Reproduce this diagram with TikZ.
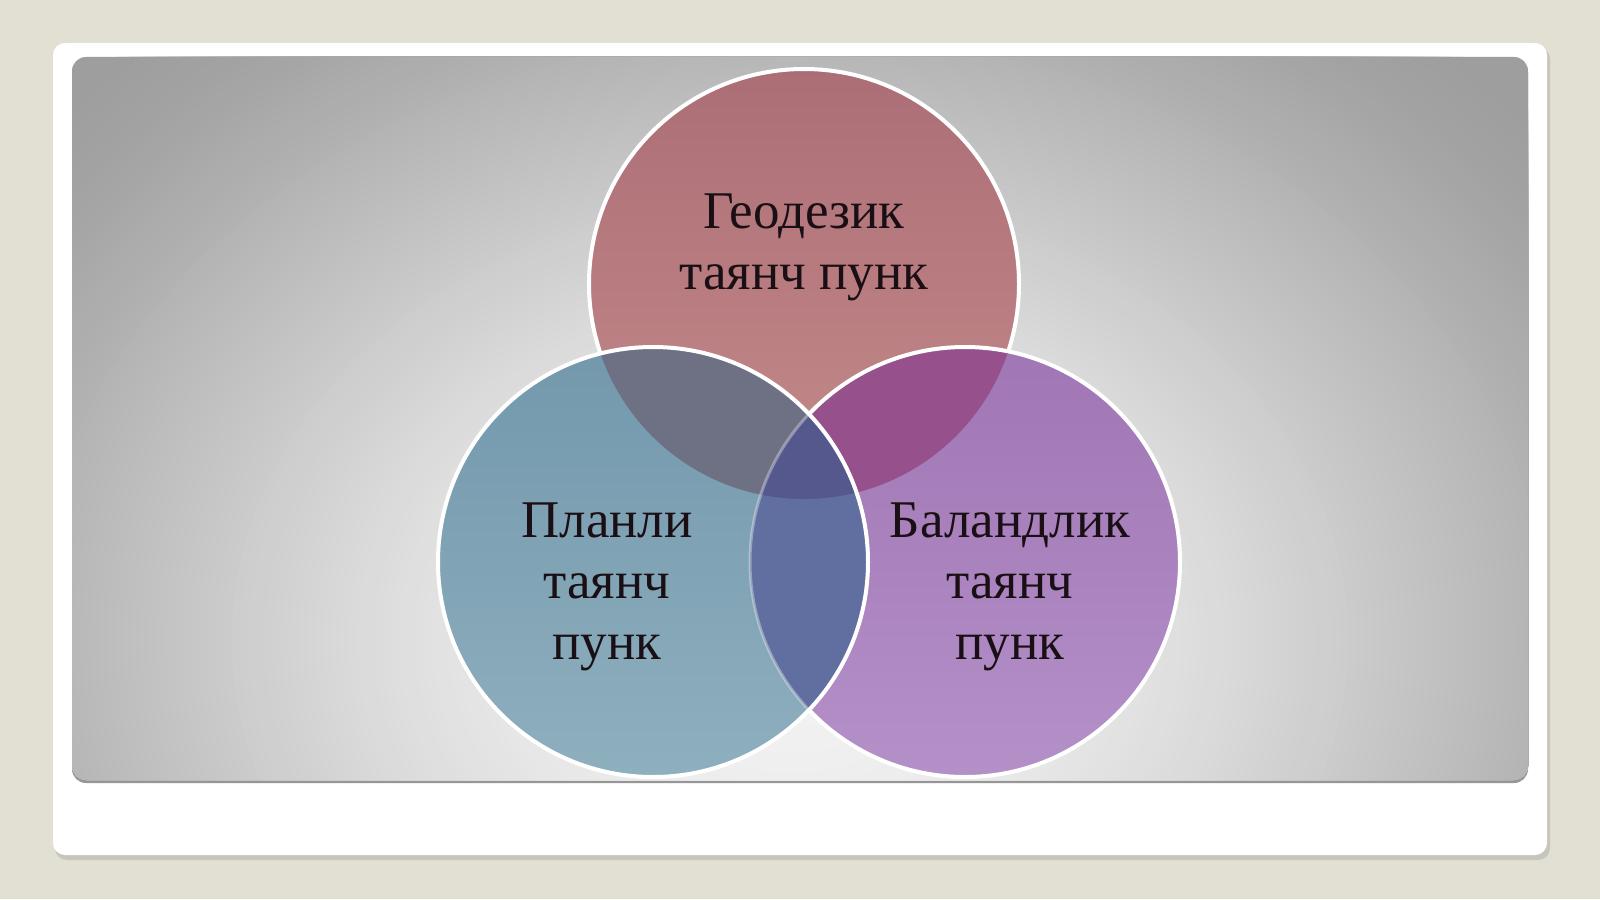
\documentclass[tikz,border=0pt]{standalone}
\usepackage{fontspec}
\setmainfont{Liberation Serif}

\definecolor{slidebg}{RGB}{226,224,210}
\definecolor{cardshadow}{RGB}{200,198,188}
\definecolor{panelshadow}{RGB}{150,150,150}
\definecolor{paneledge}{RGB}{158,158,158}
\definecolor{geotop}{RGB}{172,110,118}
\definecolor{geobot}{RGB}{196,138,138}
\definecolor{plantop}{RGB}{115,152,172}
\definecolor{planbot}{RGB}{142,175,190}
\definecolor{baltop}{RGB}{160,118,180}
\definecolor{balbot}{RGB}{180,144,200}
\definecolor{geoplan}{RGB}{110,112,132}
\definecolor{geobal}{RGB}{150,80,140}
\definecolor{planbal}{RGB}{96,110,160}
\definecolor{allthree}{RGB}{85,88,140}
\definecolor{labeltext}{RGB}{25,15,20}

\tikzset{
  ring/.style={draw=white, line width=4pt},
  label/.style={align=center, text=labeltext, font=\fontsize{53}{61}\selectfont}
}

\begin{document}
\begin{tikzpicture}[x=1pt, y=-1pt]
\useasboundingbox (0,0) rectangle (1600,899);

%Slide
\fill[slidebg] (0,0) rectangle (1600,899);
\fill[cardshadow, rounded corners=12pt] (55,47) rectangle (1550,860);
\fill[white, rounded corners=12pt] (53,43) rectangle (1547,855);
\fill[panelshadow, rounded corners=14pt] (72,59) rectangle (1528,783);
\fill[paneledge, rounded corners=14pt] (72,57) rectangle (1528,780);
\begin{scope}
\clip[rounded corners=14pt] (72,57) rectangle (1528,780);
\foreach \k in {1,...,119}{
  \pgfmathsetmacro\f{1-\k/120}
  \pgfmathsetmacro\p{87*(1-\f*\f)^1.6}
  \pgfmathsetmacro\rx{1000*\f}
  \pgfmathsetmacro\ry{800*\f}
  \fill[white!\p!paneledge] (790,640) ellipse (\rx pt and \ry pt);
}
\end{scope}

%Centres
\coordinate (geo) at (804,284);
\coordinate (plan) at (653,562);
\coordinate (bal) at (965,562);

%Circles
\shade[top color=geotop, bottom color=geobot] (geo) circle (215pt);
\draw[ring] (geo) circle (215pt);

\shade[top color=baltop, bottom color=balbot] (bal) circle (215pt);
\begin{scope}
\clip (bal) circle (215pt);
\fill[geobal] (geo) circle (215pt);
\end{scope}
\draw[ring] (bal) circle (215pt);

\shade[top color=plantop, bottom color=planbot] (plan) circle (215pt);
\begin{scope}
\clip (plan) circle (215pt);
\fill[geoplan] (geo) circle (215pt);
\fill[planbal] (bal) circle (215pt);
\clip (geo) circle (215pt);
\fill[allthree] (bal) circle (215pt);
\end{scope}
\begin{scope}
\clip (plan) circle (215pt);
\draw[ring, draw opacity=0.35, line width=3pt] (bal) circle (215pt);
\end{scope}
\draw[ring] (plan) circle (215pt);

%Labels
\node[label] (geotext) at (804,247) {Геодезик\\таянч пунк};
\node[label] (plantext) at (607,587) {Планли\\таянч\\пунк};
\node[label] (baltext) at (1010,587) {Баландлик\\таянч\\пунк};
\end{tikzpicture}
\end{document}
